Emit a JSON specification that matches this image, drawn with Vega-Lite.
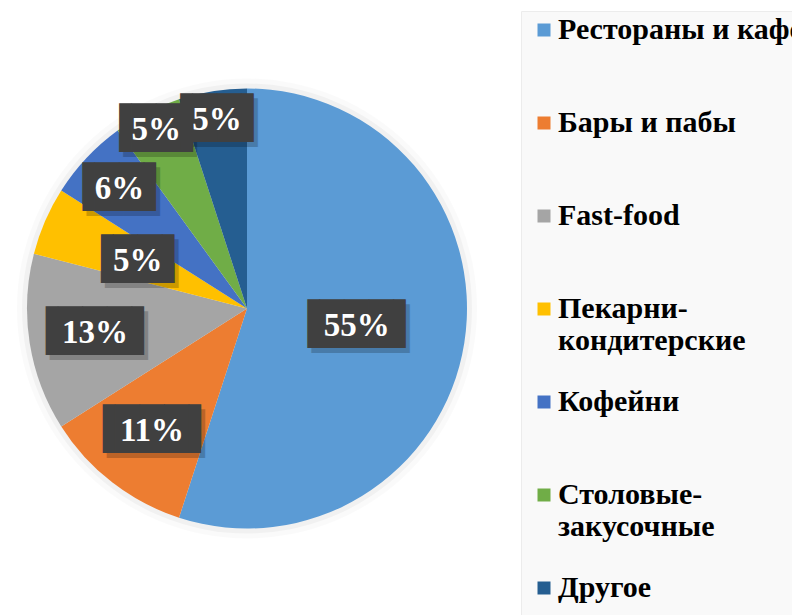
{
  "$schema": "https://vega.github.io/schema/vega-lite/v6.json",
  "padding": {"left": 0, "top": 10, "right": 0, "bottom": 0},
  "background": "#ffffff",
  "width": 494,
  "height": 595,
  "config": {"view": {"stroke": null}},
  "data": {"values": [
    {"idx": 1, "category": "Рестораны и кафе", "value": 55},
    {"idx": 2, "category": "Бары и пабы", "value": 11},
    {"idx": 3, "category": "Fast-food", "value": 13},
    {"idx": 4, "category": "Пекарни-кондитерские", "value": 5},
    {"idx": 5, "category": "Кофейни", "value": 6},
    {"idx": 6, "category": "Столовые-закусочные", "value": 5},
    {"idx": 7, "category": "Другое", "value": 5}
  ]},
  "transform": [
    {"stack": "value", "groupby": [], "sort": [{"field": "idx", "order": "ascending"}], "as": ["v0", "v1"]},
    {"calculate": "(datum.v0 + datum.v1) / 2", "as": "mid"},
    {"calculate": "datum.value + '%'", "as": "pct"}
  ],
  "layer": [
    {
      "transform": [{"filter": "datum.idx == 1"}],
      "mark": {"type": "arc", "theta": 0, "theta2": 6.2832, "outerRadius": 230, "fill": "#000000", "opacity": 0.02},
      "encoding": {}
    },
    {
      "transform": [{"filter": "datum.idx == 1"}],
      "mark": {"type": "arc", "theta": 0, "theta2": 6.2832, "outerRadius": 225, "fill": "#000000", "opacity": 0.035},
      "encoding": {}
    },
    {
      "mark": {"type": "arc", "outerRadius": 220},
      "encoding": {
        "theta": {"field": "v0", "type": "quantitative", "scale": {"domain": [0, 100]}},
        "theta2": {"field": "v1"},
        "color": {
          "field": "category",
          "type": "nominal",
          "sort": ["Рестораны и кафе", "Бары и пабы", "Fast-food", "Пекарни-кондитерские", "Кофейни", "Столовые-закусочные", "Другое"],
          "scale": {
            "domain": ["Рестораны и кафе", "Бары и пабы", "Fast-food", "Пекарни-кондитерские", "Кофейни", "Столовые-закусочные", "Другое"],
            "range": ["#5B9BD5", "#ED7D31", "#A5A5A5", "#FFC000", "#4472C4", "#70AD47", "#255E91"]
          },
          "legend": {
            "title": null,
            "orient": "right",
            "offset": 27,
            "symbolType": "square",
            "symbolSize": 169,
            "symbolStrokeWidth": 0,
            "symbolOffset": 4,
            "labelFont": "Liberation Serif",
            "labelFontSize": 30,
            "labelFontWeight": "bold",
            "labelColor": "#000000",
            "labelLimit": 0,
            "labelOffset": -1,
            "padding": 4,
            "fillColor": "#f9f9f9",
            "strokeColor": "#ececec",
            "rowPadding": 31,
            "labelExpr": "datum.label == 'Пекарни-кондитерские' ? ['Пекарни-', 'кондитерские'] : datum.label == 'Столовые-закусочные' ? ['Столовые-', 'закусочные'] : [datum.label, ' ']"
          }
        }
      }
    },
    {
      "mark": {"type": "text", "font": "DejaVu Sans Mono", "fontSize": 41, "color": "#000000", "opacity": 0.2, "dx": 4, "dy": 5, "align": "center", "baseline": "middle"},
      "encoding": {
        "theta": {"field": "mid", "type": "quantitative", "scale": {"domain": [0, 100]}},
        "radius": {"field": "idx", "type": "quantitative", "scale": {"type": "linear", "zero": false, "domain": [1, 2, 3, 4, 5, 6, 7], "range": [111, 155, 154, 119, 175, 200, 191]}},
        "text": {"condition": {"test": "datum.value >= 10", "value": "▐███▌"}, "value": "▐██▌"}
      }
    },
    {
      "mark": {"type": "text", "font": "DejaVu Sans Mono", "fontSize": 41, "color": "#404040", "align": "center", "baseline": "middle"},
      "encoding": {
        "theta": {"field": "mid", "type": "quantitative", "scale": {"domain": [0, 100]}},
        "radius": {"field": "idx", "type": "quantitative", "scale": {"type": "linear", "zero": false, "domain": [1, 2, 3, 4, 5, 6, 7], "range": [111, 155, 154, 119, 175, 200, 191]}},
        "text": {"condition": {"test": "datum.value >= 10", "value": "▐███▌"}, "value": "▐██▌"}
      }
    },
    {
      "mark": {"type": "text", "font": "Liberation Serif", "fontSize": 33, "fontWeight": "bold", "color": "#ffffff", "align": "center", "baseline": "middle"},
      "encoding": {
        "theta": {"field": "mid", "type": "quantitative", "scale": {"domain": [0, 100]}},
        "radius": {"field": "idx", "type": "quantitative", "scale": {"type": "linear", "zero": false, "domain": [1, 2, 3, 4, 5, 6, 7], "range": [111, 155, 154, 119, 175, 200, 191]}},
        "text": {"field": "pct", "type": "nominal"}
      }
    }
  ]
}
